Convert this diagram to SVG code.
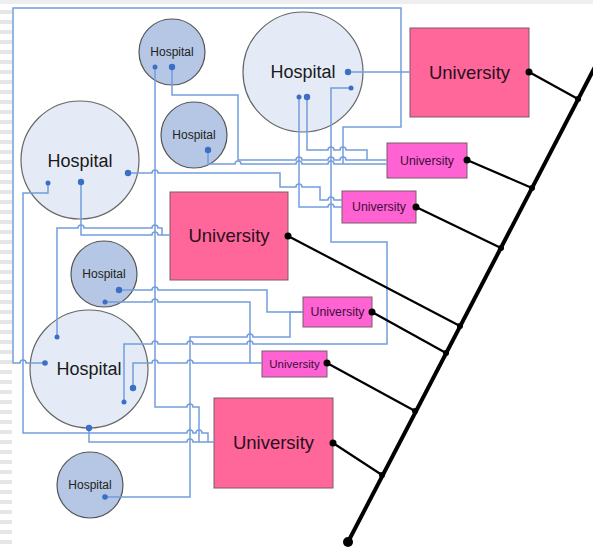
<svg xmlns="http://www.w3.org/2000/svg" width="593" height="547" viewBox="0 0 593 547">
<defs>
<pattern id="stripes" x="0" y="0" width="12" height="10" patternUnits="userSpaceOnUse">
<rect x="0" y="0" width="12" height="4" fill="#e6e6e6"/>
</pattern>
<style>
.bg{fill:#ffffff}
.hb{fill:#e4ebf6;stroke:#666;stroke-width:1.2}
.hs{fill:#b5c7e4;stroke:#555;stroke-width:1.2}
.ub{fill:#ff6699;stroke:#7a5a6a;stroke-width:1}
.us{fill:#ff62d2;stroke:#7a5a6a;stroke-width:1}
.tb{font-family:"Liberation Sans",Arial,sans-serif;font-size:18px;fill:#1a1a1a;text-anchor:middle}
.ts{font-family:"Liberation Sans",Arial,sans-serif;font-size:12px;fill:#222;text-anchor:middle}
.tub{font-family:"Liberation Sans",Arial,sans-serif;font-size:18.5px;fill:#2a0f20;text-anchor:middle}
.tus{font-family:"Liberation Sans",Arial,sans-serif;font-size:12.3px;fill:#3a0f3a;text-anchor:middle}
.w{fill:none;stroke:#739ddb;stroke-width:1.5}
.d{fill:#3a6fc6}
.k{fill:none;stroke:#000;stroke-width:2.2}
.kb{fill:none;stroke:#000;stroke-width:4}
.kd{fill:#000}
</style>
</defs>
<rect class="bg" x="0" y="0" width="593" height="547"/>
<rect x="0" y="0" width="12" height="547" fill="url(#stripes)"/>
<rect x="0" y="0" width="593" height="4" fill="#eeeeee"/>

<g id="h1"><circle class="hb" cx="303" cy="72" r="60"/><text class="tb" x="303" y="78">Hospital</text></g>
<g id="h2"><circle class="hb" cx="80" cy="160" r="59"/><text class="tb" x="80" y="167">Hospital</text></g>
<g id="h3"><circle class="hb" cx="89" cy="369" r="59"/><text class="tb" x="89" y="375">Hospital</text></g>
<g id="s1"><circle class="hs" cx="172" cy="52" r="33"/><text class="ts" x="172" y="56">Hospital</text></g>
<g id="s2"><circle class="hs" cx="194" cy="135" r="33"/><text class="ts" x="194" y="139">Hospital</text></g>
<g id="s3"><circle class="hs" cx="104" cy="274" r="33"/><text class="ts" x="104" y="278">Hospital</text></g>
<g id="s4"><circle class="hs" cx="90" cy="485" r="33"/><text class="ts" x="90" y="489">Hospital</text></g>

<g id="u1"><rect class="ub" x="410" y="28" width="119" height="89"/><text class="tub" x="469.5" y="79">University</text></g>
<g id="u2"><rect class="us" x="387" y="143" width="80" height="35"/><text class="tus" x="427" y="165">University</text></g>
<g id="u3"><rect class="us" x="342" y="191" width="74" height="32"/><text class="tus" x="379" y="211">University</text></g>
<g id="u4"><rect class="ub" x="170" y="192" width="118" height="88"/><text class="tub" x="229" y="242">University</text></g>
<g id="u5"><rect class="us" x="303" y="297" width="69" height="30"/><text class="tus" x="337.5" y="316">University</text></g>
<g id="u6"><rect class="us" x="262" y="351" width="65" height="26"/><text class="tus" x="294.5" y="368" style="font-size:11.5px">University</text></g>
<g id="u7"><rect class="ub" x="214" y="398" width="119" height="90"/><text class="tub" x="273.5" y="449">University</text></g>

<g id="connectors">
<g id="wires">
<path class="w" d="M45,363 H26 a3,3 0 0 0 -6,0 H13 V8 H401 V127 H343 V164"/>
<path class="w" d="M348,72 H410"/>
<path class="w" d="M351,88 H331 V242 H387 V344 H253 a3,3 0 0 0 -6,0 H193 a3,3 0 0 0 -6,0 H158 a3,3 0 0 0 -6,0 H124 V402"/>
<path class="w" d="M299,97 V207 H328 a3,3 0 0 1 6,0 H342"/>
<path class="w" d="M307,97 V150 H328 a3,3 0 0 1 6,0 H340 a3,3 0 0 1 6,0 H367 V160"/>
<path class="w" d="M172,67 V95 H238 V160 H296 a3,3 0 0 1 6,0 H328 a3,3 0 0 1 6,0 H340 a3,3 0 0 1 6,0 H387"/>
<path class="w" d="M208,150 V164 H235 a3,3 0 0 1 6,0 H296 a3,3 0 0 1 6,0 H328 a3,3 0 0 1 6,0 H387"/>
<path class="w" d="M128,173 H152 a3,3 0 0 1 6,0 H280 V187 H296 a3,3 0 0 1 6,0 H320 V200 H328 a3,3 0 0 1 6,0 H342"/>
<path class="w" d="M81,182 V235 H152 a3,3 0 0 1 6,0 H170"/>
<path class="w" d="M57,337 V228 H78 a3,3 0 0 1 6,0 H152 a3,3 0 0 1 6,0 H162 V235"/>
<path class="w" d="M48,183 V193 H23 V433 H187 a3,3 0 0 1 6,0 H196 a3,3 0 0 1 6,0 H208 V442"/>
<path class="w" d="M89,428 V442 H187 a3,3 0 0 1 6,0 H214"/>
<path class="w" d="M155,67 V407 H187 a3,3 0 0 1 6,0 H199 V442"/>
<path class="w" d="M119,290 H152 a3,3 0 0 1 6,0 H267 V312 H303"/>
<path class="w" d="M105,302 H152 a3,3 0 0 1 6,0 H250 V363"/>
<path class="w" d="M133,388 V363 H152 a3,3 0 0 1 6,0 H187 a3,3 0 0 1 6,0 H262"/>
<path class="w" d="M105,497 H190 V337 H247 a3,3 0 0 1 6,0 H290 V312 H303"/>
</g>
<g id="wire-dots">
<circle class="d" cx="348" cy="72" r="3.2"/>
<circle class="d" cx="351" cy="88" r="2.5"/>
<circle class="d" cx="299" cy="97" r="2.5"/>
<circle class="d" cx="307" cy="97" r="3.2"/>
<circle class="d" cx="155" cy="67" r="2.5"/>
<circle class="d" cx="172" cy="67" r="3.2"/>
<circle class="d" cx="208" cy="150" r="3.2"/>
<circle class="d" cx="128" cy="173" r="3.2"/>
<circle class="d" cx="81" cy="182" r="3.2"/>
<circle class="d" cx="48" cy="183" r="2.5"/>
<circle class="d" cx="57" cy="337" r="2.5"/>
<circle class="d" cx="45" cy="363" r="2.8"/>
<circle class="d" cx="119" cy="290" r="3.2"/>
<circle class="d" cx="105" cy="302" r="2.5"/>
<circle class="d" cx="133" cy="388" r="3.2"/>
<circle class="d" cx="124" cy="402" r="2.5"/>
<circle class="d" cx="89" cy="428" r="3.2"/>
<circle class="d" cx="105" cy="497" r="2.8"/>
</g>
<g id="backbone">
<path class="kb" d="M348,542 L610,38"/>
<path class="k" d="M529,72 L578,99"/>
<path class="k" d="M467,160 L532,188"/>
<path class="k" d="M416,207 L501,248"/>
<path class="k" d="M288,236 L460,326"/>
<path class="k" d="M372,312 L446,353"/>
<path class="k" d="M327,363 L415,411"/>
<path class="k" d="M333,443 L382,475"/>
<circle class="kd" cx="529" cy="72" r="3.5"/>
<circle class="kd" cx="467" cy="160" r="3.5"/>
<circle class="kd" cx="416" cy="207" r="3.5"/>
<circle class="kd" cx="288" cy="236" r="3.5"/>
<circle class="kd" cx="372" cy="312" r="3.5"/>
<circle class="kd" cx="327" cy="363" r="3.5"/>
<circle class="kd" cx="333" cy="443" r="3.5"/>
<circle class="kd" cx="578" cy="99" r="3"/>
<circle class="kd" cx="532" cy="188" r="3"/>
<circle class="kd" cx="501" cy="248" r="3"/>
<circle class="kd" cx="460" cy="326" r="3"/>
<circle class="kd" cx="446" cy="353" r="3"/>
<circle class="kd" cx="415" cy="411" r="3"/>
<circle class="kd" cx="382" cy="475" r="3"/>
<circle class="kd" cx="348" cy="542" r="5"/>
</g>
</g>
</svg>
